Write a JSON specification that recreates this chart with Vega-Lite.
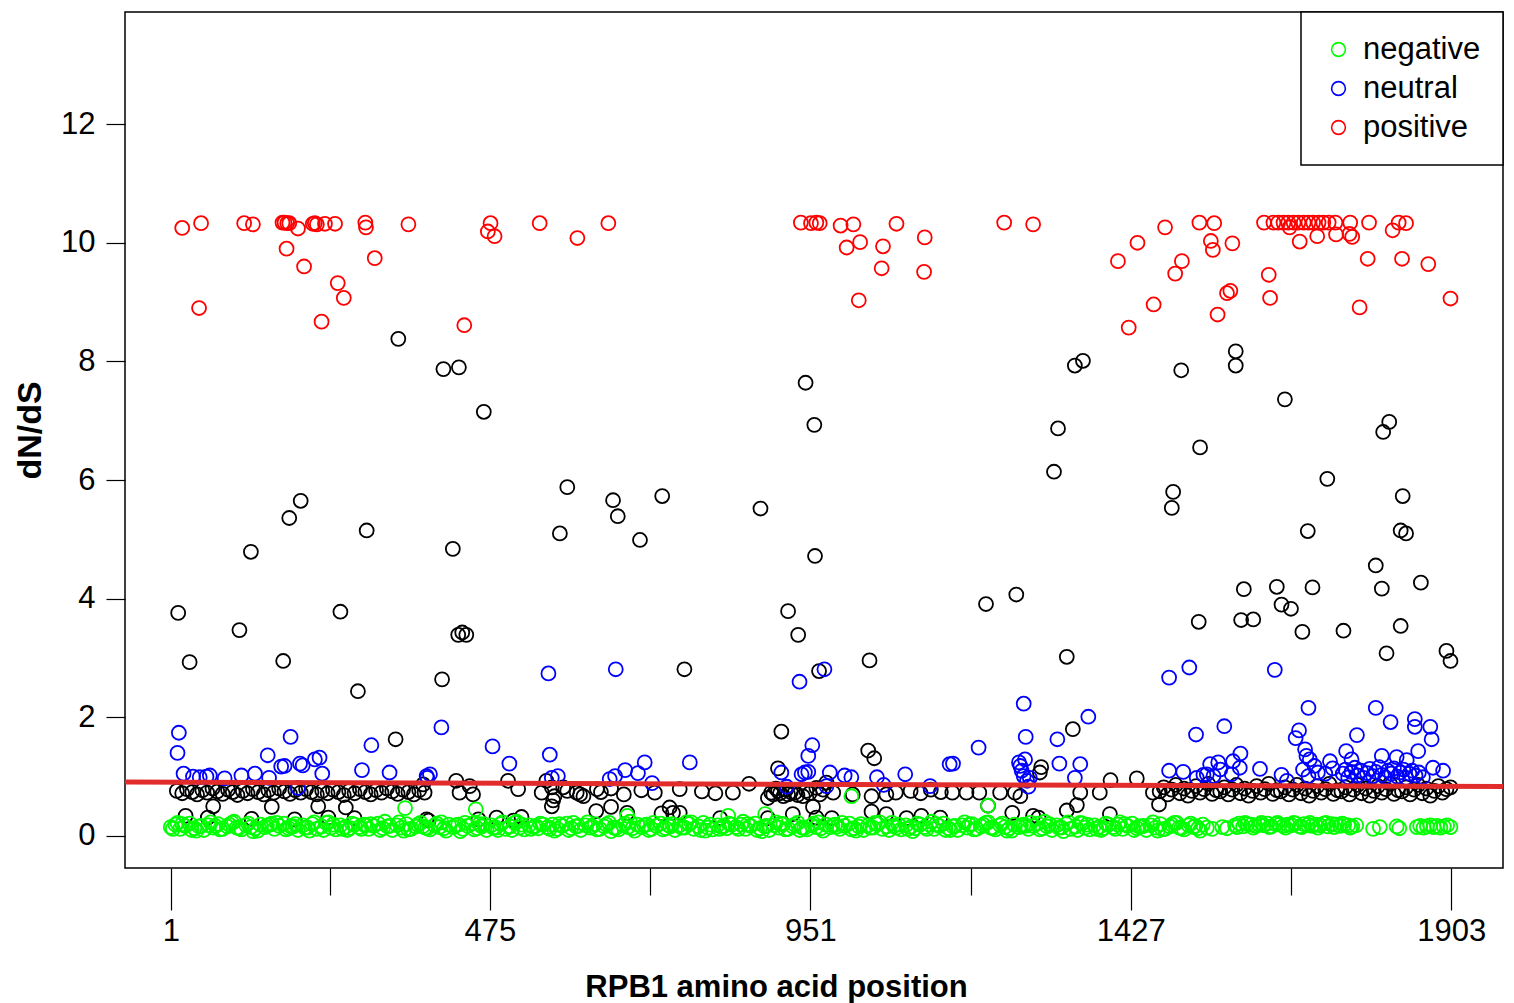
{
"$schema":"https://vega.github.io/schema/vega-lite/v6.json",
"width":1378,"height":856,"autosize":"none",
"padding":{"left":125,"top":12,"right":11,"bottom":135},
"background":"white",
"config":{"font":"Liberation Sans","view":{"stroke":"black","strokeWidth":1.5},"legend":{"strokeWidth":1.5}},
"datasets":{
"other":[
{"pos":10,"dnds":0.76},{"pos":18,"dnds":0.72},{"pos":25,"dnds":0.79},{"pos":33,"dnds":0.74},{"pos":40,"dnds":0.70},{"pos":48,"dnds":0.77},{"pos":55,"dnds":0.73},{"pos":63,"dnds":0.80},{"pos":70,"dnds":0.75},{"pos":78,"dnds":0.71},{"pos":86,"dnds":0.78},{"pos":93,"dnds":0.74},{"pos":100,"dnds":0.69},{"pos":108,"dnds":0.76},{"pos":115,"dnds":0.72},{"pos":123,"dnds":0.79},{"pos":131,"dnds":0.74},{"pos":139,"dnds":0.70},{"pos":146,"dnds":0.77},{"pos":154,"dnds":0.73},{"pos":162,"dnds":0.80},{"pos":170,"dnds":0.75},{"pos":178,"dnds":0.71},{"pos":186,"dnds":0.77},{"pos":194,"dnds":0.73},{"pos":202,"dnds":0.79},{"pos":210,"dnds":0.74},{"pos":218,"dnds":0.70},{"pos":226,"dnds":0.76},{"pos":234,"dnds":0.72},{"pos":242,"dnds":0.78},{"pos":250,"dnds":0.74},{"pos":258,"dnds":0.69},{"pos":266,"dnds":0.76},{"pos":274,"dnds":0.72},{"pos":282,"dnds":0.79},{"pos":290,"dnds":0.74},{"pos":298,"dnds":0.70},{"pos":306,"dnds":0.77},{"pos":314,"dnds":0.73},{"pos":322,"dnds":0.80},{"pos":330,"dnds":0.75},{"pos":338,"dnds":0.71},{"pos":346,"dnds":0.78},{"pos":354,"dnds":0.74},{"pos":362,"dnds":0.70},{"pos":370,"dnds":0.77},
{"pos":376,"dnds":0.87},{"pos":378,"dnds":0.73},{"pos":425,"dnds":0.93},{"pos":430,"dnds":0.73},{"pos":445,"dnds":0.84},{"pos":450,"dnds":0.70},{"pos":502,"dnds":0.93},{"pos":517,"dnds":0.79},{"pos":552,"dnds":0.73},{"pos":559,"dnds":0.93},{"pos":567,"dnds":0.82},{"pos":571,"dnds":0.67},{"pos":584,"dnds":0.82},{"pos":590,"dnds":0.76},{"pos":604,"dnds":0.73},{"pos":609,"dnds":0.70},{"pos":614,"dnds":0.67},{"pos":634,"dnds":0.79},{"pos":640,"dnds":0.74},{"pos":655,"dnds":0.80},{"pos":674,"dnds":0.70},{"pos":700,"dnds":0.77},{"pos":720,"dnds":0.73},{"pos":757,"dnds":0.79},
{"pos":790,"dnds":0.75},{"pos":810,"dnds":0.72},{"pos":836,"dnds":0.73},{"pos":860,"dnds":0.88},{"pos":888,"dnds":0.64},{"pos":893,"dnds":0.73},{"pos":896,"dnds":0.70},{"pos":900,"dnds":0.80},{"pos":903,"dnds":0.76},{"pos":906,"dnds":0.72},{"pos":911,"dnds":0.67},{"pos":915,"dnds":0.78},{"pos":918,"dnds":0.70},{"pos":922,"dnds":0.74},{"pos":928,"dnds":0.73},{"pos":932,"dnds":0.69},{"pos":940,"dnds":0.67},{"pos":945,"dnds":0.76},{"pos":950,"dnds":0.72},{"pos":960,"dnds":0.81},{"pos":965,"dnds":0.70},{"pos":970,"dnds":0.78},{"pos":975,"dnds":0.90},{"pos":985,"dnds":0.73},{"pos":1014,"dnds":0.70},{"pos":1042,"dnds":0.67},{"pos":1064,"dnds":0.70},{"pos":1078,"dnds":0.73},
{"pos":1100,"dnds":0.76},{"pos":1115,"dnds":0.72},{"pos":1130,"dnds":0.78},{"pos":1145,"dnds":0.74},{"pos":1162,"dnds":0.73},{"pos":1183,"dnds":0.73},{"pos":1202,"dnds":0.73},{"pos":1233,"dnds":0.73},{"pos":1255,"dnds":0.73},{"pos":1263,"dnds":0.67},{"pos":1352,"dnds":0.73},{"pos":1381,"dnds":0.73},{"pos":1460,"dnds":0.73},
{"pos":1470,"dnds":0.75},{"pos":1476,"dnds":0.82},{"pos":1482,"dnds":0.70},{"pos":1488,"dnds":0.78},{"pos":1494,"dnds":0.86},{"pos":1500,"dnds":0.72},{"pos":1506,"dnds":0.80},{"pos":1512,"dnds":0.68},{"pos":1518,"dnds":0.76},{"pos":1524,"dnds":0.84},{"pos":1530,"dnds":0.73},{"pos":1536,"dnds":0.79},{"pos":1542,"dnds":0.88},{"pos":1548,"dnds":0.71},{"pos":1554,"dnds":0.77},
{"pos":1560,"dnds":0.75},{"pos":1566,"dnds":0.82},{"pos":1572,"dnds":0.70},{"pos":1578,"dnds":0.78},{"pos":1584,"dnds":0.86},{"pos":1590,"dnds":0.72},{"pos":1596,"dnds":0.80},{"pos":1602,"dnds":0.68},{"pos":1608,"dnds":0.76},{"pos":1614,"dnds":0.84},{"pos":1620,"dnds":0.73},{"pos":1626,"dnds":0.79},{"pos":1632,"dnds":0.88},{"pos":1638,"dnds":0.71},{"pos":1644,"dnds":0.77},
{"pos":1650,"dnds":0.75},{"pos":1656,"dnds":0.82},{"pos":1662,"dnds":0.70},{"pos":1668,"dnds":0.78},{"pos":1674,"dnds":0.86},{"pos":1680,"dnds":0.72},{"pos":1686,"dnds":0.80},{"pos":1692,"dnds":0.68},{"pos":1698,"dnds":0.76},{"pos":1704,"dnds":0.84},{"pos":1710,"dnds":0.73},{"pos":1716,"dnds":0.79},{"pos":1722,"dnds":0.88},{"pos":1728,"dnds":0.71},{"pos":1734,"dnds":0.77},
{"pos":1740,"dnds":0.75},{"pos":1746,"dnds":0.82},{"pos":1752,"dnds":0.70},{"pos":1758,"dnds":0.78},{"pos":1764,"dnds":0.86},{"pos":1770,"dnds":0.72},{"pos":1776,"dnds":0.80},{"pos":1782,"dnds":0.68},{"pos":1788,"dnds":0.76},{"pos":1794,"dnds":0.84},{"pos":1800,"dnds":0.73},{"pos":1806,"dnds":0.79},{"pos":1812,"dnds":0.88},{"pos":1818,"dnds":0.71},{"pos":1824,"dnds":0.77},
{"pos":1830,"dnds":0.75},{"pos":1836,"dnds":0.82},{"pos":1842,"dnds":0.70},{"pos":1848,"dnds":0.78},{"pos":1854,"dnds":0.86},{"pos":1860,"dnds":0.72},{"pos":1866,"dnds":0.80},{"pos":1872,"dnds":0.68},{"pos":1878,"dnds":0.76},{"pos":1884,"dnds":0.84},{"pos":1890,"dnds":0.73},{"pos":1896,"dnds":0.79},{"pos":1902,"dnds":0.82},
{"pos":64,"dnds":0.50},{"pos":151,"dnds":0.49},{"pos":220,"dnds":0.50},{"pos":261,"dnds":0.48},{"pos":23,"dnds":0.34},{"pos":56,"dnds":0.31},{"pos":121,"dnds":0.29},{"pos":185,"dnds":0.28},{"pos":235,"dnds":0.31},{"pos":274,"dnds":0.30},{"pos":381,"dnds":0.28},{"pos":567,"dnds":0.50},{"pos":569,"dnds":0.60},{"pos":633,"dnds":0.42},{"pos":655,"dnds":0.49},{"pos":679,"dnds":0.39},{"pos":730,"dnds":0.38},{"pos":742,"dnds":0.48},{"pos":747,"dnds":0.39},{"pos":384,"dnds":0.26},{"pos":458,"dnds":0.28},{"pos":485,"dnds":0.31},{"pos":510,"dnds":0.26},{"pos":522,"dnds":0.32},{"pos":955,"dnds":0.49},{"pos":1042,"dnds":0.41},{"pos":1064,"dnds":0.37},{"pos":925,"dnds":0.37},{"pos":817,"dnds":0.30},{"pos":888,"dnds":0.30},{"pos":960,"dnds":0.31},{"pos":983,"dnds":0.30},{"pos":1094,"dnds":0.30},{"pos":1116,"dnds":0.34},{"pos":1144,"dnds":0.31},{"pos":757,"dnds":0.39},{"pos":1215,"dnds":0.51},{"pos":1251,"dnds":0.39},{"pos":1282,"dnds":0.34},{"pos":1290,"dnds":0.31},{"pos":1332,"dnds":0.43},{"pos":1347,"dnds":0.52},{"pos":1396,"dnds":0.37},{"pos":1469,"dnds":0.53},
{"pos":335,"dnds":1.63},{"pos":908,"dnds":1.76},{"pos":1037,"dnds":1.44},{"pos":1046,"dnds":1.31},{"pos":903,"dnds":1.14},{"pos":1341,"dnds":1.80},{"pos":1294,"dnds":1.16},{"pos":1292,"dnds":1.07},{"pos":1397,"dnds":0.94},{"pos":1436,"dnds":0.97},
{"pos":339,"dnds":8.38},{"pos":406,"dnds":7.87},{"pos":429,"dnds":7.90},{"pos":466,"dnds":7.15},{"pos":590,"dnds":5.88},{"pos":194,"dnds":5.65},{"pos":177,"dnds":5.36},{"pos":292,"dnds":5.15},{"pos":579,"dnds":5.10},{"pos":120,"dnds":4.79},{"pos":420,"dnds":4.84},{"pos":12,"dnds":3.76},{"pos":253,"dnds":3.78},{"pos":103,"dnds":3.47},{"pos":428,"dnds":3.39},{"pos":434,"dnds":3.43},{"pos":440,"dnds":3.39},{"pos":29,"dnds":2.93},{"pos":168,"dnds":2.95},{"pos":404,"dnds":2.64},{"pos":279,"dnds":2.44},
{"pos":944,"dnds":7.64},{"pos":957,"dnds":6.93},{"pos":658,"dnds":5.66},{"pos":731,"dnds":5.73},{"pos":665,"dnds":5.39},{"pos":877,"dnds":5.52},{"pos":698,"dnds":4.99},{"pos":958,"dnds":4.72},{"pos":1212,"dnds":3.91},{"pos":1257,"dnds":4.07},{"pos":918,"dnds":3.79},{"pos":933,"dnds":3.39},{"pos":1039,"dnds":2.96},{"pos":764,"dnds":2.81},{"pos":964,"dnds":2.78},
{"pos":1344,"dnds":7.93},{"pos":1356,"dnds":8.01},{"pos":1502,"dnds":7.85},{"pos":1583,"dnds":8.17},{"pos":1583,"dnds":7.93},{"pos":1656,"dnds":7.36},{"pos":1319,"dnds":6.87},{"pos":1811,"dnds":6.98},{"pos":1802,"dnds":6.81},{"pos":1530,"dnds":6.55},{"pos":1313,"dnds":6.14},{"pos":1719,"dnds":6.02},{"pos":1490,"dnds":5.80},{"pos":1488,"dnds":5.53},{"pos":1831,"dnds":5.73},{"pos":1690,"dnds":5.14},{"pos":1828,"dnds":5.15},{"pos":1836,"dnds":5.10},{"pos":1791,"dnds":4.56},{"pos":1858,"dnds":4.27},{"pos":1595,"dnds":4.16},{"pos":1644,"dnds":4.20},{"pos":1697,"dnds":4.19},{"pos":1800,"dnds":4.17},{"pos":1651,"dnds":3.90},{"pos":1665,"dnds":3.83},{"pos":1528,"dnds":3.61},{"pos":1591,"dnds":3.64},{"pos":1609,"dnds":3.65},{"pos":1682,"dnds":3.44},{"pos":1743,"dnds":3.46},{"pos":1828,"dnds":3.54},{"pos":1807,"dnds":3.08},{"pos":1896,"dnds":3.12},{"pos":1902,"dnds":2.95},{"pos":1332,"dnds":3.02}
],
"negative":[
{"pos":1,"dnds":0.15},{"pos":8,"dnds":0.19},{"pos":15,"dnds":0.12},{"pos":22,"dnds":0.17},{"pos":29,"dnds":0.21},{"pos":36,"dnds":0.13},{"pos":43,"dnds":0.16},{"pos":50,"dnds":0.10},{"pos":57,"dnds":0.18},{"pos":64,"dnds":0.14},{"pos":71,"dnds":0.20},{"pos":78,"dnds":0.12},{"pos":85,"dnds":0.16},{"pos":92,"dnds":0.22},{"pos":99,"dnds":0.14},{"pos":106,"dnds":0.11},{"pos":113,"dnds":0.18},{"pos":120,"dnds":0.15},{"pos":127,"dnds":0.13},{"pos":134,"dnds":0.19},
{"pos":141,"dnds":0.15},{"pos":148,"dnds":0.19},{"pos":155,"dnds":0.12},{"pos":162,"dnds":0.17},{"pos":169,"dnds":0.21},{"pos":176,"dnds":0.13},{"pos":183,"dnds":0.16},{"pos":190,"dnds":0.10},{"pos":197,"dnds":0.18},{"pos":204,"dnds":0.14},{"pos":211,"dnds":0.20},{"pos":218,"dnds":0.12},{"pos":225,"dnds":0.16},{"pos":232,"dnds":0.22},{"pos":239,"dnds":0.14},{"pos":246,"dnds":0.11},{"pos":253,"dnds":0.18},{"pos":260,"dnds":0.15},{"pos":267,"dnds":0.13},{"pos":274,"dnds":0.19},
{"pos":281,"dnds":0.15},{"pos":288,"dnds":0.19},{"pos":295,"dnds":0.12},{"pos":302,"dnds":0.17},{"pos":309,"dnds":0.21},{"pos":316,"dnds":0.13},{"pos":323,"dnds":0.16},{"pos":330,"dnds":0.10},{"pos":337,"dnds":0.18},{"pos":344,"dnds":0.14},{"pos":351,"dnds":0.20},{"pos":358,"dnds":0.12},{"pos":365,"dnds":0.16},{"pos":372,"dnds":0.22},{"pos":379,"dnds":0.14},{"pos":386,"dnds":0.11},{"pos":393,"dnds":0.18},{"pos":400,"dnds":0.15},{"pos":407,"dnds":0.13},{"pos":414,"dnds":0.19},
{"pos":421,"dnds":0.15},{"pos":428,"dnds":0.19},{"pos":435,"dnds":0.12},{"pos":442,"dnds":0.17},{"pos":449,"dnds":0.21},{"pos":456,"dnds":0.13},{"pos":463,"dnds":0.16},{"pos":470,"dnds":0.10},{"pos":477,"dnds":0.18},{"pos":484,"dnds":0.14},{"pos":491,"dnds":0.20},{"pos":498,"dnds":0.12},{"pos":505,"dnds":0.16},{"pos":512,"dnds":0.22},{"pos":519,"dnds":0.14},{"pos":526,"dnds":0.11},{"pos":533,"dnds":0.18},{"pos":540,"dnds":0.15},{"pos":547,"dnds":0.13},{"pos":554,"dnds":0.19},
{"pos":561,"dnds":0.15},{"pos":568,"dnds":0.19},{"pos":575,"dnds":0.12},{"pos":582,"dnds":0.17},{"pos":589,"dnds":0.21},{"pos":596,"dnds":0.13},{"pos":603,"dnds":0.16},{"pos":610,"dnds":0.10},{"pos":617,"dnds":0.18},{"pos":624,"dnds":0.14},{"pos":631,"dnds":0.20},{"pos":638,"dnds":0.12},{"pos":645,"dnds":0.16},{"pos":652,"dnds":0.22},{"pos":659,"dnds":0.14},{"pos":666,"dnds":0.11},{"pos":673,"dnds":0.18},{"pos":680,"dnds":0.15},{"pos":687,"dnds":0.13},{"pos":694,"dnds":0.19},
{"pos":701,"dnds":0.15},{"pos":708,"dnds":0.19},{"pos":715,"dnds":0.12},{"pos":722,"dnds":0.17},{"pos":729,"dnds":0.21},{"pos":736,"dnds":0.13},{"pos":743,"dnds":0.16},{"pos":750,"dnds":0.10},{"pos":757,"dnds":0.18},{"pos":764,"dnds":0.14},{"pos":771,"dnds":0.20},{"pos":778,"dnds":0.12},{"pos":785,"dnds":0.16},{"pos":792,"dnds":0.22},{"pos":799,"dnds":0.14},{"pos":806,"dnds":0.11},{"pos":813,"dnds":0.18},{"pos":820,"dnds":0.15},{"pos":827,"dnds":0.13},{"pos":834,"dnds":0.19},
{"pos":841,"dnds":0.15},{"pos":848,"dnds":0.19},{"pos":855,"dnds":0.12},{"pos":862,"dnds":0.17},{"pos":869,"dnds":0.21},{"pos":876,"dnds":0.13},{"pos":883,"dnds":0.16},{"pos":890,"dnds":0.10},{"pos":897,"dnds":0.18},{"pos":904,"dnds":0.14},{"pos":911,"dnds":0.20},{"pos":918,"dnds":0.12},{"pos":925,"dnds":0.16},{"pos":932,"dnds":0.22},{"pos":939,"dnds":0.14},{"pos":946,"dnds":0.11},{"pos":953,"dnds":0.18},{"pos":960,"dnds":0.15},{"pos":967,"dnds":0.13},{"pos":974,"dnds":0.19},
{"pos":981,"dnds":0.15},{"pos":988,"dnds":0.19},{"pos":995,"dnds":0.12},{"pos":1002,"dnds":0.17},{"pos":1009,"dnds":0.21},{"pos":1016,"dnds":0.13},{"pos":1023,"dnds":0.16},{"pos":1030,"dnds":0.10},{"pos":1037,"dnds":0.18},{"pos":1044,"dnds":0.14},{"pos":1051,"dnds":0.20},{"pos":1058,"dnds":0.12},{"pos":1065,"dnds":0.16},{"pos":1072,"dnds":0.22},{"pos":1079,"dnds":0.14},{"pos":1086,"dnds":0.11},{"pos":1093,"dnds":0.18},{"pos":1100,"dnds":0.15},{"pos":1107,"dnds":0.13},{"pos":1114,"dnds":0.19},
{"pos":1121,"dnds":0.15},{"pos":1128,"dnds":0.19},{"pos":1135,"dnds":0.12},{"pos":1142,"dnds":0.17},{"pos":1149,"dnds":0.21},{"pos":1156,"dnds":0.13},{"pos":1163,"dnds":0.16},{"pos":1170,"dnds":0.10},{"pos":1177,"dnds":0.18},{"pos":1184,"dnds":0.14},{"pos":1191,"dnds":0.20},{"pos":1198,"dnds":0.12},{"pos":1205,"dnds":0.16},{"pos":1212,"dnds":0.22},{"pos":1219,"dnds":0.14},{"pos":1226,"dnds":0.11},{"pos":1233,"dnds":0.18},{"pos":1240,"dnds":0.15},{"pos":1247,"dnds":0.13},{"pos":1254,"dnds":0.19},
{"pos":1261,"dnds":0.15},{"pos":1268,"dnds":0.19},{"pos":1275,"dnds":0.12},{"pos":1282,"dnds":0.17},{"pos":1289,"dnds":0.21},{"pos":1296,"dnds":0.13},{"pos":1303,"dnds":0.16},{"pos":1310,"dnds":0.10},{"pos":1317,"dnds":0.18},{"pos":1324,"dnds":0.14},{"pos":1331,"dnds":0.20},{"pos":1338,"dnds":0.12},{"pos":1345,"dnds":0.16},{"pos":1352,"dnds":0.22},{"pos":1359,"dnds":0.14},{"pos":1366,"dnds":0.11},{"pos":1373,"dnds":0.18},{"pos":1380,"dnds":0.15},{"pos":1387,"dnds":0.13},{"pos":1394,"dnds":0.19},
{"pos":1401,"dnds":0.15},{"pos":1408,"dnds":0.19},{"pos":1415,"dnds":0.12},{"pos":1422,"dnds":0.17},{"pos":1429,"dnds":0.21},{"pos":1436,"dnds":0.13},{"pos":1443,"dnds":0.16},{"pos":1450,"dnds":0.10},{"pos":1457,"dnds":0.18},{"pos":1464,"dnds":0.14},{"pos":1471,"dnds":0.20},{"pos":1478,"dnds":0.12},{"pos":1485,"dnds":0.16},{"pos":1492,"dnds":0.22},{"pos":1499,"dnds":0.14},{"pos":1506,"dnds":0.11},{"pos":1513,"dnds":0.18},{"pos":1520,"dnds":0.15},{"pos":1527,"dnds":0.13},{"pos":1534,"dnds":0.19},
{"pos":4,"dnds":0.12},{"pos":18,"dnds":0.20},{"pos":32,"dnds":0.10},{"pos":46,"dnds":0.17},{"pos":60,"dnds":0.23},{"pos":74,"dnds":0.11},{"pos":88,"dnds":0.19},{"pos":102,"dnds":0.13},{"pos":116,"dnds":0.21},{"pos":130,"dnds":0.09},{"pos":144,"dnds":0.18},{"pos":158,"dnds":0.22},{"pos":172,"dnds":0.11},{"pos":186,"dnds":0.20},{"pos":200,"dnds":0.14},{"pos":214,"dnds":0.23},{"pos":228,"dnds":0.10},{"pos":242,"dnds":0.19},{"pos":256,"dnds":0.12},{"pos":270,"dnds":0.21},
{"pos":284,"dnds":0.12},{"pos":298,"dnds":0.20},{"pos":312,"dnds":0.10},{"pos":326,"dnds":0.17},{"pos":340,"dnds":0.23},{"pos":354,"dnds":0.11},{"pos":368,"dnds":0.19},{"pos":382,"dnds":0.13},{"pos":396,"dnds":0.21},{"pos":410,"dnds":0.09},{"pos":424,"dnds":0.18},{"pos":438,"dnds":0.22},{"pos":452,"dnds":0.11},{"pos":466,"dnds":0.20},{"pos":480,"dnds":0.14},{"pos":494,"dnds":0.23},{"pos":508,"dnds":0.10},{"pos":522,"dnds":0.19},{"pos":536,"dnds":0.12},{"pos":550,"dnds":0.21},
{"pos":564,"dnds":0.12},{"pos":578,"dnds":0.20},{"pos":592,"dnds":0.10},{"pos":606,"dnds":0.17},{"pos":620,"dnds":0.23},{"pos":634,"dnds":0.11},{"pos":648,"dnds":0.19},{"pos":662,"dnds":0.13},{"pos":676,"dnds":0.21},{"pos":690,"dnds":0.09},{"pos":704,"dnds":0.18},{"pos":718,"dnds":0.22},{"pos":732,"dnds":0.11},{"pos":746,"dnds":0.20},{"pos":760,"dnds":0.14},{"pos":774,"dnds":0.23},{"pos":788,"dnds":0.10},{"pos":802,"dnds":0.19},{"pos":816,"dnds":0.12},{"pos":830,"dnds":0.21},
{"pos":844,"dnds":0.12},{"pos":858,"dnds":0.20},{"pos":872,"dnds":0.10},{"pos":886,"dnds":0.17},{"pos":900,"dnds":0.23},{"pos":914,"dnds":0.11},{"pos":928,"dnds":0.19},{"pos":942,"dnds":0.13},{"pos":956,"dnds":0.21},{"pos":970,"dnds":0.09},{"pos":984,"dnds":0.18},{"pos":998,"dnds":0.22},{"pos":1012,"dnds":0.11},{"pos":1026,"dnds":0.20},{"pos":1040,"dnds":0.14},{"pos":1054,"dnds":0.23},{"pos":1068,"dnds":0.10},{"pos":1082,"dnds":0.19},{"pos":1096,"dnds":0.12},{"pos":1110,"dnds":0.21},
{"pos":1124,"dnds":0.12},{"pos":1138,"dnds":0.20},{"pos":1152,"dnds":0.10},{"pos":1166,"dnds":0.17},{"pos":1180,"dnds":0.23},{"pos":1194,"dnds":0.11},{"pos":1208,"dnds":0.19},{"pos":1222,"dnds":0.13},{"pos":1236,"dnds":0.21},{"pos":1250,"dnds":0.09},{"pos":1264,"dnds":0.18},{"pos":1278,"dnds":0.22},{"pos":1292,"dnds":0.11},{"pos":1306,"dnds":0.20},{"pos":1320,"dnds":0.14},{"pos":1334,"dnds":0.23},{"pos":1348,"dnds":0.10},{"pos":1362,"dnds":0.19},{"pos":1376,"dnds":0.12},{"pos":1390,"dnds":0.21},
{"pos":1404,"dnds":0.12},{"pos":1418,"dnds":0.20},{"pos":1432,"dnds":0.10},{"pos":1446,"dnds":0.17},{"pos":1460,"dnds":0.23},{"pos":1474,"dnds":0.11},{"pos":1488,"dnds":0.19},{"pos":1502,"dnds":0.13},{"pos":1516,"dnds":0.21},{"pos":1530,"dnds":0.09},
{"pos":11,"dnds":0.22},{"pos":39,"dnds":0.09},{"pos":67,"dnds":0.17},{"pos":95,"dnds":0.24},{"pos":123,"dnds":0.08},{"pos":151,"dnds":0.21},{"pos":179,"dnds":0.16},{"pos":207,"dnds":0.09},{"pos":235,"dnds":0.23},{"pos":263,"dnds":0.10},{"pos":291,"dnds":0.18},{"pos":319,"dnds":0.24},{"pos":347,"dnds":0.09},{"pos":375,"dnds":0.16},{"pos":403,"dnds":0.23},{"pos":431,"dnds":0.08},{"pos":459,"dnds":0.20},{"pos":487,"dnds":0.10},{"pos":515,"dnds":0.24},{"pos":543,"dnds":0.17},
{"pos":571,"dnds":0.09},{"pos":599,"dnds":0.22},{"pos":627,"dnds":0.16},{"pos":655,"dnds":0.08},{"pos":683,"dnds":0.24},{"pos":711,"dnds":0.10},{"pos":739,"dnds":0.19},{"pos":767,"dnds":0.23},{"pos":795,"dnds":0.09},{"pos":823,"dnds":0.17},{"pos":851,"dnds":0.24},{"pos":879,"dnds":0.08},{"pos":907,"dnds":0.21},{"pos":935,"dnds":0.10},{"pos":963,"dnds":0.23},{"pos":991,"dnds":0.16},{"pos":1019,"dnds":0.09},{"pos":1047,"dnds":0.22},{"pos":1075,"dnds":0.17},{"pos":1103,"dnds":0.08},
{"pos":1131,"dnds":0.24},{"pos":1159,"dnds":0.10},{"pos":1187,"dnds":0.19},{"pos":1215,"dnds":0.23},{"pos":1243,"dnds":0.09},{"pos":1271,"dnds":0.17},{"pos":1299,"dnds":0.24},{"pos":1327,"dnds":0.08},{"pos":1355,"dnds":0.21},{"pos":1383,"dnds":0.10},{"pos":1411,"dnds":0.23},{"pos":1439,"dnds":0.16},{"pos":1467,"dnds":0.09},{"pos":1495,"dnds":0.22},{"pos":1523,"dnds":0.17},
{"pos":1540,"dnds":0.14},{"pos":1548,"dnds":0.12},{"pos":1563,"dnds":0.15},{"pos":1570,"dnds":0.13},
{"pos":1582,"dnds":0.18},{"pos":1588,"dnds":0.21},{"pos":1594,"dnds":0.16},{"pos":1600,"dnds":0.20},{"pos":1606,"dnds":0.19},{"pos":1612,"dnds":0.17},{"pos":1618,"dnds":0.19},{"pos":1624,"dnds":0.18},{"pos":1630,"dnds":0.21},{"pos":1636,"dnds":0.16},{"pos":1642,"dnds":0.20},{"pos":1648,"dnds":0.19},{"pos":1654,"dnds":0.17},{"pos":1660,"dnds":0.19},{"pos":1666,"dnds":0.18},{"pos":1672,"dnds":0.21},{"pos":1678,"dnds":0.16},{"pos":1684,"dnds":0.20},{"pos":1690,"dnds":0.19},{"pos":1696,"dnds":0.17},{"pos":1702,"dnds":0.19},{"pos":1708,"dnds":0.18},{"pos":1714,"dnds":0.21},{"pos":1720,"dnds":0.16},{"pos":1726,"dnds":0.20},{"pos":1732,"dnds":0.19},{"pos":1738,"dnds":0.17},{"pos":1744,"dnds":0.19},{"pos":1750,"dnds":0.18},{"pos":1756,"dnds":0.16},{"pos":1762,"dnds":0.18},
{"pos":1585,"dnds":0.15},{"pos":1597,"dnds":0.22},{"pos":1609,"dnds":0.14},{"pos":1621,"dnds":0.22},{"pos":1633,"dnds":0.15},{"pos":1645,"dnds":0.22},{"pos":1657,"dnds":0.14},{"pos":1669,"dnds":0.22},{"pos":1681,"dnds":0.15},{"pos":1693,"dnds":0.22},{"pos":1705,"dnds":0.14},{"pos":1717,"dnds":0.22},{"pos":1729,"dnds":0.15},{"pos":1741,"dnds":0.21},{"pos":1753,"dnds":0.14},
{"pos":1787,"dnds":0.12},{"pos":1797,"dnds":0.15},{"pos":1822,"dnds":0.16},{"pos":1826,"dnds":0.13},
{"pos":1852,"dnds":0.15},{"pos":1857,"dnds":0.17},{"pos":1862,"dnds":0.14},{"pos":1867,"dnds":0.16},{"pos":1872,"dnds":0.18},{"pos":1877,"dnds":0.15},{"pos":1882,"dnds":0.17},{"pos":1887,"dnds":0.14},{"pos":1892,"dnds":0.16},{"pos":1897,"dnds":0.18},{"pos":1902,"dnds":0.15},
{"pos":349,"dnds":0.47},{"pos":454,"dnds":0.45},{"pos":679,"dnds":0.34},{"pos":829,"dnds":0.34},{"pos":884,"dnds":0.37},{"pos":1012,"dnds":0.67},{"pos":1215,"dnds":0.51}
],
"neutral":[
{"pos":562,"dnds":2.74},{"pos":662,"dnds":2.81},{"pos":972,"dnds":2.81},{"pos":935,"dnds":2.60},{"pos":1484,"dnds":2.67},{"pos":1514,"dnds":2.84},{"pos":1641,"dnds":2.80},
{"pos":13,"dnds":1.74},{"pos":11,"dnds":1.40},{"pos":179,"dnds":1.67},{"pos":299,"dnds":1.53},{"pos":145,"dnds":1.36},{"pos":165,"dnds":1.17},{"pos":170,"dnds":1.18},{"pos":193,"dnds":1.22},{"pos":197,"dnds":1.19},{"pos":215,"dnds":1.29},{"pos":222,"dnds":1.32},{"pos":20,"dnds":1.05},{"pos":34,"dnds":1.00},{"pos":44,"dnds":0.99},{"pos":54,"dnds":1.00},{"pos":59,"dnds":1.02},{"pos":81,"dnds":0.97},{"pos":106,"dnds":1.02},{"pos":126,"dnds":1.05},{"pos":147,"dnds":0.98},{"pos":226,"dnds":1.05},{"pos":285,"dnds":1.11},{"pos":326,"dnds":1.07},{"pos":190,"dnds":0.81},{"pos":381,"dnds":1.01},
{"pos":403,"dnds":1.83},{"pos":479,"dnds":1.51},{"pos":504,"dnds":1.22},{"pos":564,"dnds":1.37},{"pos":386,"dnds":1.04},{"pos":382,"dnds":0.98},{"pos":567,"dnds":0.98},{"pos":576,"dnds":1.01},{"pos":653,"dnds":0.96},{"pos":661,"dnds":1.01},{"pos":676,"dnds":1.11},{"pos":695,"dnds":1.06},{"pos":705,"dnds":1.24},{"pos":716,"dnds":0.89},{"pos":772,"dnds":1.24},
{"pos":954,"dnds":1.53},{"pos":948,"dnds":1.35},{"pos":908,"dnds":1.07},{"pos":938,"dnds":1.04},{"pos":943,"dnds":1.07},{"pos":948,"dnds":1.08},{"pos":980,"dnds":1.07},{"pos":1002,"dnds":1.02},{"pos":1012,"dnds":0.99},{"pos":1050,"dnds":0.99},{"pos":1060,"dnds":0.86},{"pos":1092,"dnds":1.04},{"pos":1129,"dnds":0.84},{"pos":916,"dnds":0.83},{"pos":975,"dnds":0.84},{"pos":1158,"dnds":1.21},
{"pos":1268,"dnds":2.23},{"pos":1364,"dnds":2.01},{"pos":1271,"dnds":1.67},{"pos":1318,"dnds":1.63},{"pos":1524,"dnds":1.71},{"pos":1201,"dnds":1.49},{"pos":1163,"dnds":1.22},{"pos":1270,"dnds":1.29},{"pos":1263,"dnds":1.18},{"pos":1265,"dnds":1.10},{"pos":1268,"dnds":1.01},{"pos":1273,"dnds":0.93},{"pos":1275,"dnds":0.83},{"pos":1261,"dnds":1.24},{"pos":1277,"dnds":0.98},{"pos":1321,"dnds":1.22},{"pos":1352,"dnds":1.21},{"pos":1344,"dnds":0.98},{"pos":1484,"dnds":1.10},{"pos":1505,"dnds":1.08},{"pos":1525,"dnds":0.98},{"pos":1535,"dnds":1.03},{"pos":1545,"dnds":1.21},
{"pos":1691,"dnds":2.16},{"pos":1791,"dnds":2.16},{"pos":1566,"dnds":1.85},{"pos":1813,"dnds":1.92},{"pos":1849,"dnds":1.97},{"pos":1849,"dnds":1.84},{"pos":1872,"dnds":1.84},{"pos":1874,"dnds":1.63},{"pos":1677,"dnds":1.78},{"pos":1672,"dnds":1.65},{"pos":1763,"dnds":1.70},{"pos":1590,"dnds":1.39},{"pos":1854,"dnds":1.43},{"pos":1800,"dnds":1.35},{"pos":1822,"dnds":1.33},{"pos":1837,"dnds":1.28},{"pos":1686,"dnds":1.46},{"pos":1688,"dnds":1.35},{"pos":1747,"dnds":1.43},{"pos":1755,"dnds":1.29},{"pos":1619,"dnds":1.13},{"pos":1557,"dnds":1.24},{"pos":1560,"dnds":1.12},{"pos":1550,"dnds":1.01},{"pos":1579,"dnds":1.26},{"pos":1589,"dnds":1.15},{"pos":1577,"dnds":1.04},{"pos":1651,"dnds":1.03},{"pos":1659,"dnds":0.93},{"pos":1693,"dnds":1.29},{"pos":1700,"dnds":1.18},{"pos":1683,"dnds":1.12},{"pos":1705,"dnds":1.07},{"pos":1691,"dnds":1.01},{"pos":1723,"dnds":1.26},{"pos":1727,"dnds":1.14},{"pos":1716,"dnds":1.05},{"pos":1876,"dnds":1.15},{"pos":1891,"dnds":1.10},{"pos":1540,"dnds":1.04},
{"pos":1742,"dnds":1.05},{"pos":1746,"dnds":1.12},{"pos":1750,"dnds":0.99},{"pos":1755,"dnds":1.08},{"pos":1760,"dnds":1.15},{"pos":1764,"dnds":1.02},{"pos":1769,"dnds":1.10},{"pos":1773,"dnds":0.98},{"pos":1778,"dnds":1.06},{"pos":1782,"dnds":1.13},{"pos":1787,"dnds":1.01},{"pos":1791,"dnds":1.08},{"pos":1796,"dnds":1.16},{"pos":1800,"dnds":1.03},{"pos":1805,"dnds":0.99},{"pos":1809,"dnds":1.10},{"pos":1814,"dnds":1.05},{"pos":1818,"dnds":1.14},{"pos":1823,"dnds":1.00},{"pos":1827,"dnds":1.07},{"pos":1832,"dnds":1.12},{"pos":1836,"dnds":0.98},{"pos":1841,"dnds":1.05},{"pos":1845,"dnds":1.10},{"pos":1850,"dnds":1.02},{"pos":1855,"dnds":1.07},{"pos":1861,"dnds":0.99}
],
"positive":[
{"pos":18,"dnds":10.25},{"pos":46,"dnds":10.33},{"pos":110,"dnds":10.33},{"pos":123,"dnds":10.31},{"pos":167,"dnds":10.34},{"pos":170,"dnds":10.34},{"pos":174,"dnds":10.33},{"pos":177,"dnds":10.33},{"pos":190,"dnds":10.24},{"pos":212,"dnds":10.32},{"pos":215,"dnds":10.33},{"pos":218,"dnds":10.31},{"pos":230,"dnds":10.32},{"pos":245,"dnds":10.32},{"pos":290,"dnds":10.34},{"pos":291,"dnds":10.26},{"pos":354,"dnds":10.31},{"pos":476,"dnds":10.33},{"pos":472,"dnds":10.19},{"pos":482,"dnds":10.11},{"pos":549,"dnds":10.33},{"pos":605,"dnds":10.08},{"pos":173,"dnds":9.90},{"pos":199,"dnds":9.60},{"pos":304,"dnds":9.74},{"pos":249,"dnds":9.32},{"pos":258,"dnds":9.07},{"pos":43,"dnds":8.90},{"pos":225,"dnds":8.67},{"pos":437,"dnds":8.61},
{"pos":651,"dnds":10.33},{"pos":937,"dnds":10.34},{"pos":952,"dnds":10.33},{"pos":960,"dnds":10.34},{"pos":965,"dnds":10.33},{"pos":996,"dnds":10.29},{"pos":1015,"dnds":10.31},{"pos":1079,"dnds":10.32},{"pos":1239,"dnds":10.34},{"pos":1282,"dnds":10.31},{"pos":1025,"dnds":10.01},{"pos":1005,"dnds":9.92},{"pos":1059,"dnds":9.94},{"pos":1121,"dnds":10.09},{"pos":1057,"dnds":9.57},{"pos":1120,"dnds":9.51},{"pos":1023,"dnds":9.03},
{"pos":1478,"dnds":10.26},{"pos":1529,"dnds":10.34},{"pos":1551,"dnds":10.33},{"pos":1625,"dnds":10.34},{"pos":1639,"dnds":10.34},{"pos":1646,"dnds":10.34},{"pos":1654,"dnds":10.34},{"pos":1661,"dnds":10.34},{"pos":1669,"dnds":10.34},{"pos":1676,"dnds":10.34},{"pos":1684,"dnds":10.34},{"pos":1691,"dnds":10.34},{"pos":1698,"dnds":10.34},{"pos":1706,"dnds":10.34},{"pos":1713,"dnds":10.34},{"pos":1721,"dnds":10.34},{"pos":1731,"dnds":10.34},{"pos":1663,"dnds":10.26},{"pos":1753,"dnds":10.34},{"pos":1781,"dnds":10.34},{"pos":1825,"dnds":10.34},{"pos":1836,"dnds":10.33},{"pos":1816,"dnds":10.21},{"pos":1546,"dnds":10.03},{"pos":1549,"dnds":9.88},{"pos":1578,"dnds":9.99},{"pos":1678,"dnds":10.02},{"pos":1704,"dnds":10.11},{"pos":1732,"dnds":10.14},{"pos":1752,"dnds":10.15},{"pos":1756,"dnds":10.10},{"pos":1437,"dnds":10.00},{"pos":1408,"dnds":9.69},{"pos":1503,"dnds":9.69},{"pos":1493,"dnds":9.48},{"pos":1779,"dnds":9.73},{"pos":1830,"dnds":9.73},{"pos":1869,"dnds":9.64},{"pos":1632,"dnds":9.46},{"pos":1575,"dnds":9.19},{"pos":1570,"dnds":9.15},{"pos":1634,"dnds":9.07},{"pos":1902,"dnds":9.06},{"pos":1767,"dnds":8.91},{"pos":1461,"dnds":8.96},{"pos":1556,"dnds":8.79},{"pos":1424,"dnds":8.57}
],
"fit":[{"pos":-67,"dnds":0.908},{"pos":1980,"dnds":0.833}]
},
"encoding":{
"x":{"field":"pos","type":"quantitative","scale":{"domain":[-67,1980],"nice":false,"zero":false},
"axis":{"values":[1,238,475,713,951,1189,1427,1665,1903],"format":"d","domain":false,"grid":false,"labelExpr":"indexof([1,475,951,1427,1903], datum.value) >= 0 ? datum.label : ''","tickSize":{"condition":{"test":"indexof([1,475,951,1427,1903], datum.value) >= 0","value":42},"value":27},"tickColor":"black","tickWidth":1.2,"labelFontSize":31,"labelColor":"black","labelPadding":6,"labelFlush":false,"labelOverlap":false,"labelFont":"Liberation Sans","title":"RPB1 amino acid position","titleFont":"Liberation Sans","titleFontSize":31,"titleFontWeight":"bold","titleColor":"black","titleX":651,"titleY":119,"titleBaseline":"middle","titleAlign":"center","titleAnchor":null}},
"y":{"field":"dnds","type":"quantitative","scale":{"domain":[-0.54,13.89],"nice":false,"zero":false},
"axis":{"values":[0,2,4,6,8,10,12],"domain":false,"grid":false,"tickSize":19,"tickColor":"black","tickWidth":1.2,"labelFontSize":31,"labelColor":"black","labelPadding":11,"labelFont":"Liberation Sans","labelFlush":false,"labelOverlap":false,"title":"dN/dS","titleFont":"Liberation Sans","titleFontSize":34,"titleFontWeight":"bold","titleColor":"black","titleAngle":-90,"titleX":-95,"titleY":418,"titleBaseline":"middle","titleAlign":"center"}}
},
"layer":[
{"data":{"name":"other"},"mark":{"type":"point","filled":false,"size":195,"strokeWidth":1.8,"opacity":1},
"encoding":{"color":{"datum":"other","scale":{"domain":["negative","neutral","positive","other"],"range":["#00ff00","#0000ff","#ff0000","#000000"]},
"legend":{"values":["negative","neutral","positive"],"title":null,"orient":"none","legendX":1176,"legendY":0,"strokeColor":"black","padding":22,"rowPadding":7,"labelFontSize":31,"labelFont":"Liberation Sans","labelColor":"black","labelOffset":9,"symbolSize":190,"symbolStrokeWidth":1.6,"symbolType":"circle","symbolFillColor":"transparent","fillColor":"white"}}}},
{"data":{"name":"negative"},"mark":{"type":"point","filled":false,"size":195,"strokeWidth":1.8,"opacity":1},"encoding":{"color":{"datum":"negative"}}},
{"data":{"name":"neutral"},"mark":{"type":"point","filled":false,"size":195,"strokeWidth":1.8,"opacity":1},"encoding":{"color":{"datum":"neutral"}}},
{"data":{"name":"positive"},"mark":{"type":"point","filled":false,"size":195,"strokeWidth":1.8,"opacity":1},"encoding":{"color":{"datum":"positive"}}},
{"data":{"name":"fit"},"mark":{"type":"line","color":"#e22c2c","strokeWidth":5},"encoding":{}}
]
}
